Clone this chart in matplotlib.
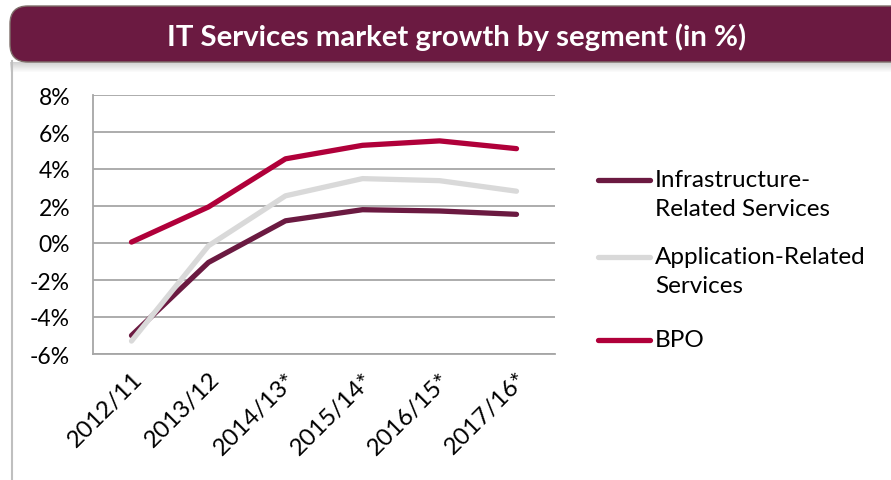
import matplotlib
matplotlib.use("Agg")
import matplotlib.pyplot as plt
from matplotlib.patches import FancyBboxPatch, Rectangle
from matplotlib.lines import Line2D

categories = ["2012/11", "2013/12", "2014/13*", "2015/14*", "2016/15*", "2017/16*"]
infra = [-5.0, -1.05, 1.2, 1.8, 1.73, 1.55]
app = [-5.3, -0.15, 2.55, 3.48, 3.37, 2.8]
bpo = [0.05, 1.95, 4.55, 5.28, 5.52, 5.1]
series_names = ["Infrastructure-\nRelated Services", "Application-Related\nServices", "BPO"]
yticks = [-6, -4, -2, 0, 2, 4, 6, 8]

MAROON = "#6B1A41"
GRAY_LINE = "#D9D9D9"
CRIMSON = "#B0003A"
colors = [MAROON, GRAY_LINE, CRIMSON]

plt.rcParams['font.family'] = ['Lato', 'DejaVu Sans']

W, H = 891, 481
fig = plt.figure(figsize=(W / 100, H / 100), dpi=100)
fig.patch.set_facecolor("white")

def fx(px):
    return px / W

def fy(py):
    return 1 - py / H

# panel left border
fig.add_artist(Line2D([fx(12), fx(12)], [fy(62), 0], color="#BFBFBF", lw=1.5))

# shadow under title bar
for i in range(10):
    fig.add_artist(Rectangle((fx(10), fy(63 + i + 1)), 1, 1 / H, transform=fig.transFigure,
                             facecolor="black", alpha=0.18 * (1 - i / 10), lw=0))

# title bar
bar = FancyBboxPatch((fx(10), fy(63)), 1.2, fy(7) - fy(63),
                     boxstyle="round,pad=0,rounding_size=0.02", transform=fig.transFigure,
                     facecolor=MAROON, edgecolor="#7F6F6A", lw=1.0, mutation_aspect=W / H)
fig.add_artist(bar)
fig.text(fx(457), fy(37), "IT Services market growth by segment (in %)", color="white",
         fontsize=21.2, fontweight="bold", ha="center", va="center")

ax = fig.add_axes([fx(93), fy(355), fx(555) - fx(93), fy(96) - fy(355)])
x = list(range(len(categories)))
for vals, c, name in zip([infra, app, bpo], colors, series_names):
    ax.plot(x, vals, color=c, lw=3.8, solid_capstyle="round", solid_joinstyle="round", label=name, zorder=3)

ax.set_xlim(-0.5, len(categories) - 0.5)
ax.set_ylim(-6, 8)
ax.set_yticks(yticks)
ax.set_yticklabels([f"{v}%" for v in yticks], fontsize=16.5)
ax.set_xticks(x)
ax.set_xticklabels(categories, fontsize=17.5, rotation=45, ha="right", rotation_mode="anchor")
ax.tick_params(axis="y", length=0, pad=16.5, colors="black")
ax.tick_params(axis="x", length=0, pad=10, colors="black")
ax.grid(axis="y", color="#A6A6A6", lw=1.3, zorder=0)
for s in ["top", "right"]:
    ax.spines[s].set_visible(False)
for s in ["left", "bottom"]:
    ax.spines[s].set_color("#A6A6A6")
    ax.spines[s].set_linewidth(1.3)

# legend (handle aligned with first text line)
leg_y = [181, 258, 341]
for c, name, yy in zip(colors, series_names, leg_y):
    fig.add_artist(Line2D([fx(598), fx(650)], [fy(yy), fy(yy)], color=c, lw=3.8, solid_capstyle="round"))
    fig.text(fx(655), fy(yy - 11), name, fontsize=17.5, ha="left", va="top",
             linespacing=1.45)

fig.savefig("out.png", dpi=100)
